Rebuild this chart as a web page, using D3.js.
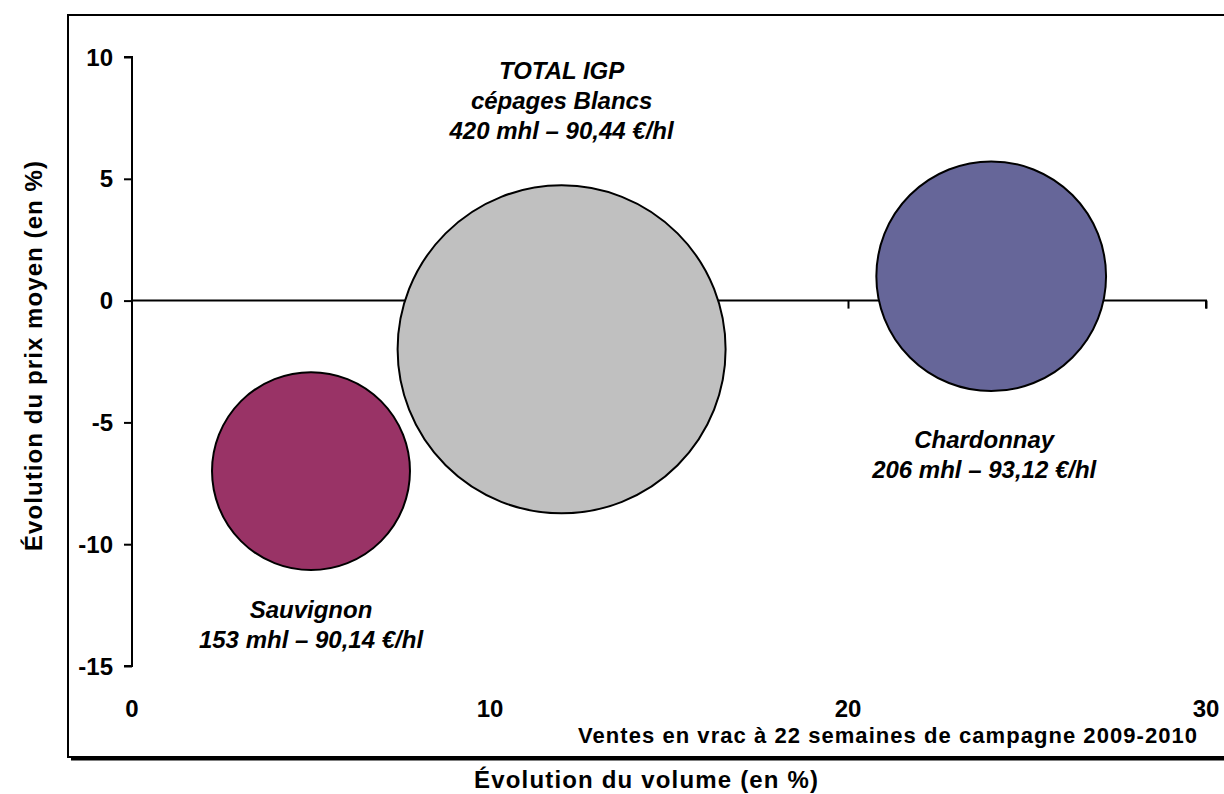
<!DOCTYPE html>
<html>
<head>
<meta charset="utf-8">
<script src="https://cdn.jsdelivr.net/npm/d3@7"></script>
<style>
  html, body { margin: 0; padding: 0; background: #fff; }
  svg { display: block; }
  text { font-family: "Liberation Sans", Arial, sans-serif; font-weight: bold; fill: #000; }
</style>
</head>
<body>
<svg id="chart" width="1224" height="794"></svg>
<script>
// Bulk white-wine sales, 22 weeks into the 2009-2010 campaign
const names = ["Sauvignon", "TOTAL IGP", "Chardonnay"];
const volumeChange = [5, 12, 24];      // % change in volume (x)
const priceChange = [-7, -2, 1];       // % change in average price (y)
const volumeMhl = [153, 420, 206];     // bubble size
const avgPrice = ["90,14", "90,44", "93,12"]; // €/hl
const labelHeads = [["Sauvignon"], ["TOTAL IGP", "cépages Blancs"], ["Chardonnay"]];
const xTicks = [0, 10, 20, 30];
const yTicks = [10, 5, 0, -5, -10, -15];
const fills = ["#993366", "#C0C0C0", "#666699"];

const svg = d3.select("#chart");

// Outer chart frame with a bottom shadow
svg.append("rect")
  .attr("x", 68).attr("y", 15).attr("width", 1200).attr("height", 742)
  .attr("fill", "none").attr("stroke", "#000").attr("stroke-width", 2);
svg.append("line")
  .attr("x1", 71).attr("x2", 1224).attr("y1", 759).attr("y2", 759)
  .attr("stroke", "#000").attr("stroke-width", 3);

const x = d3.scaleLinear().domain([0, 30]).range([132, 1206]);
const y = d3.scaleLinear().domain([-15, 10]).range([666, 57]);
const r = d3.scaleSqrt().domain([0, 420]).range([0, 164]);

// Y axis at x = 0
const yAxis = d3.axisLeft(y).tickValues(yTicks).tickSize(8).tickFormat("");
const gy = svg.append("g").attr("transform", `translate(${x(0)},0)`).call(yAxis);
gy.select(".domain").attr("stroke", "#000").attr("stroke-width", 2).attr("d", `M-8,${y(10)}H0V${y(-15)}H-8`);
gy.selectAll(".tick line").attr("stroke", "#000").attr("stroke-width", 2);

// X axis crossing at y = 0
const xAxis = d3.axisBottom(x).tickValues(xTicks.filter(v => v > 0)).tickSize(8).tickFormat("");
const gx = svg.append("g").attr("transform", `translate(0,${y(0)})`).call(xAxis);
gx.select(".domain").attr("stroke", "#000").attr("stroke-width", 2).attr("d", `M${x(0)},0H${x(30)}V8`);
gx.selectAll(".tick line").attr("stroke", "#000").attr("stroke-width", 2);

// Tick labels
svg.append("g").selectAll("text").data(yTicks).join("text")
  .attr("x", 113).attr("y", d => y(d)).attr("dy", "0.36em")
  .attr("text-anchor", "end").attr("font-size", 24)
  .text(d => d);
svg.append("g").selectAll("text").data(xTicks).join("text")
  .attr("x", d => x(d)).attr("y", 717)
  .attr("text-anchor", "middle").attr("font-size", 24)
  .text(d => d);

// Bubbles, area proportional to volume
const rows = names.map((n, i) => ({
  name: n, vx: volumeChange[i], vy: priceChange[i], vol: volumeMhl[i],
  price: avgPrice[i], head: labelHeads[i], fill: fills[i]
}));
svg.append("g").selectAll("circle").data(rows).join("circle")
  .attr("cx", d => x(d.vx)).attr("cy", d => y(d.vy)).attr("r", d => r(d.vol))
  .attr("fill", d => d.fill).attr("stroke", "#000").attr("stroke-width", 2);

// Data labels: above the large bubble, below the others
const lineGap = 30;
rows.forEach(d => {
  const lines = [...d.head, `${d.vol} mhl \u2013 ${d.price} \u20AC/hl`];
  const cx = x(d.vx), cy = y(d.vy), rad = r(d.vol);
  let first;
  if (d.name === "TOTAL IGP") first = cy - rad - 46 - lineGap * (lines.length - 1);
  else if (d.name === "Sauvignon") first = cy + rad + 48;
  else first = cy + rad + 57;
  const dx = d.name === "Chardonnay" ? -7 : 0;
  svg.append("text")
    .attr("x", cx + dx).attr("y", first)
    .attr("text-anchor", "middle").attr("font-size", 24).attr("font-style", "italic")
    .selectAll("tspan").data(lines).join("tspan")
    .attr("x", cx + dx).attr("dy", (t, i) => i === 0 ? 0 : lineGap)
    .text(t => t);
});

// Axis titles and note
svg.append("text")
  .attr("x", 646).attr("y", 788).attr("text-anchor", "middle").attr("font-size", 24)
  .attr("textLength", 344).attr("lengthAdjust", "spacing")
  .text("\u00C9volution du volume (en %)");
svg.append("text")
  .attr("transform", "translate(42,356) rotate(-90)")
  .attr("text-anchor", "middle").attr("font-size", 24)
  .attr("textLength", 390).attr("lengthAdjust", "spacing")
  .text("\u00C9volution du prix moyen (en %)");
svg.append("text")
  .attr("x", 1197).attr("y", 743).attr("text-anchor", "end").attr("font-size", 22)
  .attr("textLength", 619).attr("lengthAdjust", "spacing")
  .text("Ventes en vrac \u00E0 22 semaines de campagne 2009-2010");
</script>
</body>
</html>
